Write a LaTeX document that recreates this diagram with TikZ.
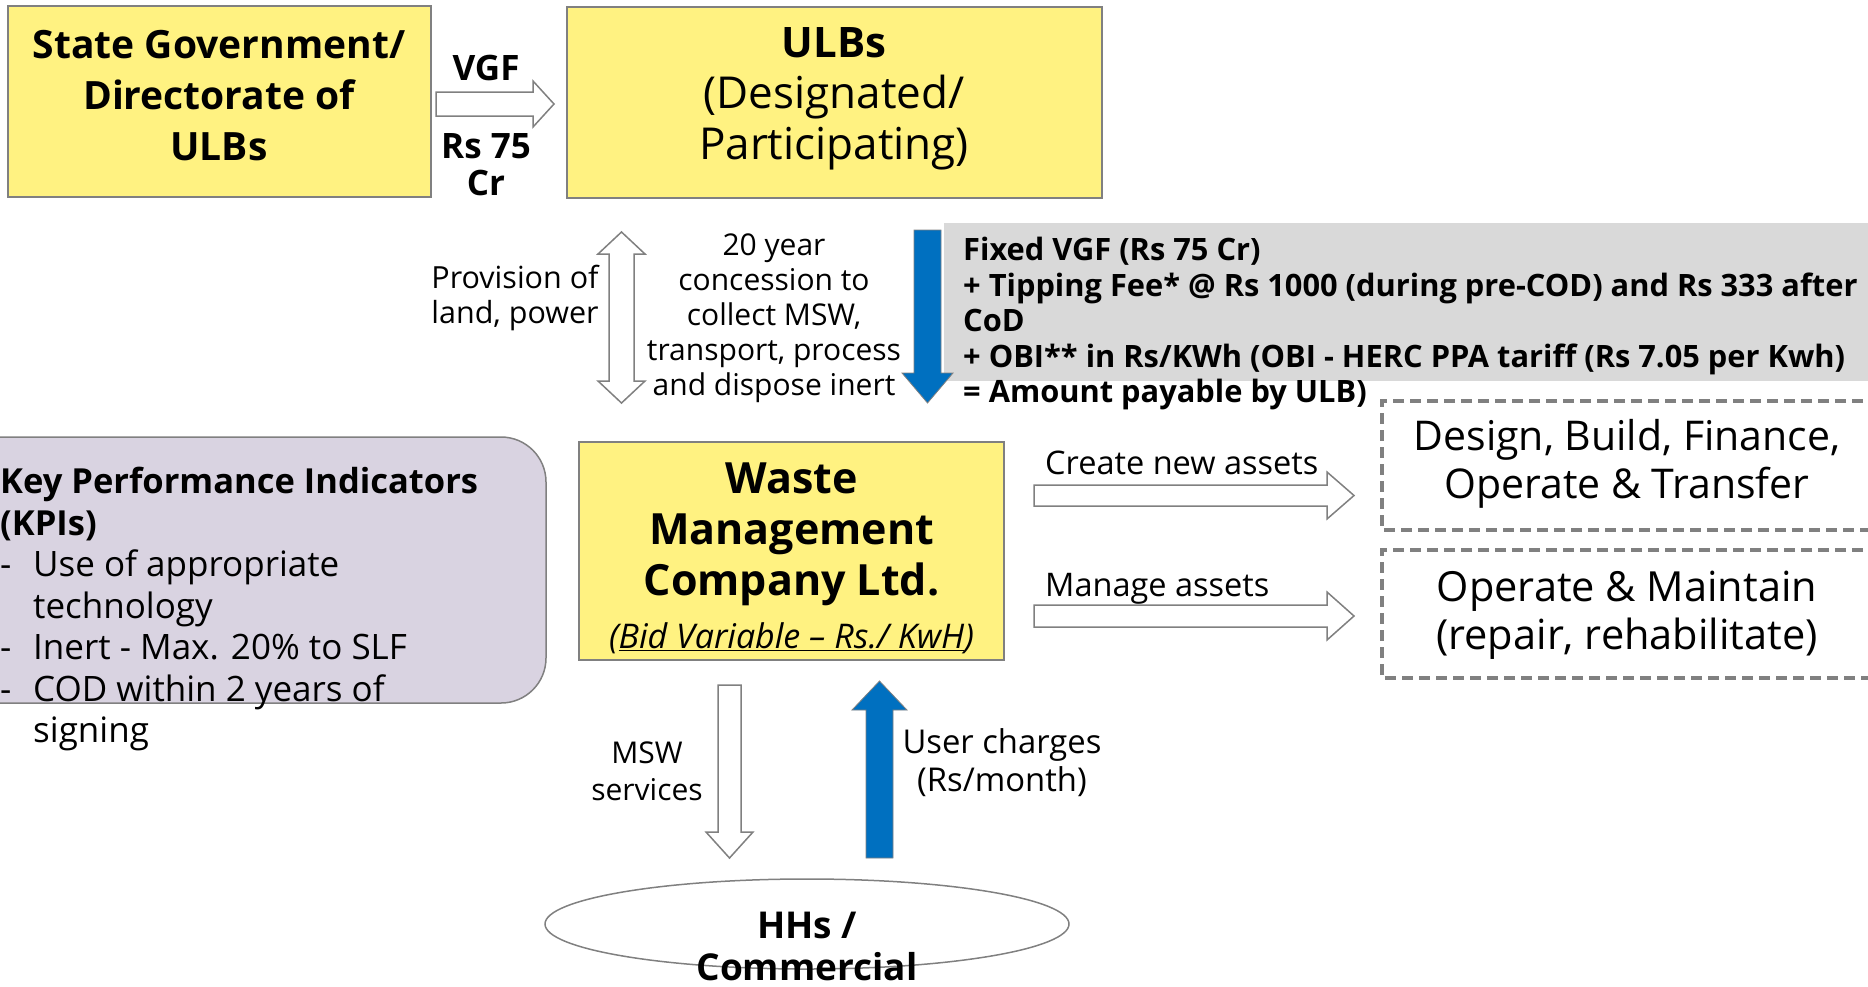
\documentclass[tikz,border=0pt]{standalone}
\usepackage{fontspec}
\setmainfont{Open Sans}
\usetikzlibrary{shapes.geometric}

\definecolor{boxyellow}{HTML}{FFF281}
\definecolor{boxedge}{HTML}{808080}
\definecolor{kpifill}{HTML}{D9D3E1}
\definecolor{notegray}{HTML}{D9D9D9}
\definecolor{flowblue}{HTML}{0070C0}

\newcommand{\fsz}[2]{\fontsize{#1}{#2}\selectfont}

\begin{document}
\begin{tikzpicture}[x=1pt,y=-1pt,
  party/.style={draw=boxedge, line width=1.5pt, fill=boxyellow, inner sep=0pt},
  hollow/.style={draw=boxedge, line width=1.5pt, fill=white, line join=miter},
  solidblue/.style={draw=boxedge, line width=0.8pt, fill=flowblue, line join=miter},
  txt/.style={align=center, inner sep=0pt},
  option/.style={draw=boxedge, line width=4pt, dash pattern=on 11pt off 6pt, inner sep=0pt},
]
\useasboundingbox (0,0) rectangle (1868,986);

% ---- top row: state government and ULBs
\node[party, minimum width=423, minimum height=191] (state) at (219.5,101.5) {};
\node[txt, font=\fsz{39}{51}\bfseries] (statetxt) at (219,96)
  {State Government/\\Directorate of\\ULBs};

\node[party, minimum width=535, minimum height=191] (ulb) at (834.5,102.5) {};
\node[txt, font=\fsz{44}{51}] (ulbtxt) at (834,99)
  {\fontsize{42}{51}\selectfont\textbf{ULBs}\\(Designated/\\Participating)};

% VGF transfer arrow
\draw[hollow] (436,92) -- (533,92) -- (533,81) -- (554,104) -- (533,127) -- (533,116) -- (436,116) -- cycle;
\node[txt, font=\fsz{35}{37}\bfseries] (vgf) at (486,68) {VGF};
\node[txt, font=\fsz{35}{37}\bfseries] (vgfamt) at (486,165) {Rs 75\\Cr};

% ---- ULB <-> company
\draw[hollow] (621.5,232) -- (645,254) -- (634,254) -- (634,381) -- (645,381) -- (621.5,403)
  -- (598,381) -- (609,381) -- (609,254) -- (598,254) -- cycle;
\node[txt, font=\fsz{30.5}{35}] (provision) at (515,298) {Provision of\\land, power};
\node[txt, font=\fsz{30}{35}] (concession) at (774,318)
  {20 year\\concession to\\collect MSW,\\transport, process\\and dispose inert};

% payment note
\node[fill=notegray, inner sep=0pt, anchor=north west, minimum width=930, minimum height=158] (note) at (944,223) {};
\draw[solidblue] (914,230) -- (941,230) -- (941,373) -- (953,373) -- (927.5,403) -- (902,373) -- (914,373) -- cycle;
\node[align=left, inner sep=0pt, anchor=north west, font=\fsz{30.8}{35.5}\bfseries] (notetxt) at (963,237)
  {Fixed VGF (Rs 75 Cr)\\
   + Tipping Fee* @ Rs 1000 (during pre-COD) and Rs 333 after\\
   CoD\\
   + OBI** in Rs/KWh (OBI - HERC PPA tariff (Rs 7.05 per Kwh)\\
   = Amount payable by ULB)};

% ---- KPIs
\draw[draw=boxedge, line width=1.5pt, fill=kpifill, rounded corners=45pt] (-60,437) rectangle (546,703);
\node[align=left, inner sep=0pt, anchor=north west, font=\fsz{35}{41.5}] (kpitxt) at (0,467)
  {\textbf{\fontsize{34.5}{41.5}\selectfont Key Performance Indicators}\\
   \textbf{\fontsize{34.5}{41.5}\selectfont (KPIs)}\\
   \makebox[33pt][l]{-}Use of appropriate\\
   \hspace*{33pt}technology\\
   \makebox[33pt][l]{-}Inert - Max. 20\% to SLF\\
   \makebox[33pt][l]{-}COD within 2 years of\\
   \hspace*{33pt}signing};

% ---- company
\node[party, minimum width=425, minimum height=218] (waste) at (791.5,551) {};
\node[txt, font=\fsz{43}{51}\bfseries] (wastetxt) at (791.5,534)
  {Waste\\Management\\Company Ltd.};
\node[txt, font=\fsz{34}{34}\itshape] (bid) at (791.5,638)
  {(\underline{Bid Variable – Rs./ KwH})};

% ---- asset roles
\draw[hollow] (1034,485) -- (1327,485) -- (1327,472) -- (1354,495.5) -- (1327,519) -- (1327,506) -- (1034,506) -- cycle;
\node[anchor=west, inner sep=0pt, font=\fsz{32.5}{35}] (create) at (1045,463) {Create new assets};
\draw[hollow] (1034,605) -- (1327,605) -- (1327,592) -- (1354,616) -- (1327,640) -- (1327,627) -- (1034,627) -- cycle;
\node[anchor=west, inner sep=0pt, font=\fsz{32.5}{35}] (manage) at (1045,589) {Manage assets};

\draw[option] (1880,401) -- (1382,401) -- (1382,530) -- (1880,530);
\node[txt, font=\fsz{41}{48}] (dbfot) at (1627,464) {Design, Build, Finance,\\Operate \& Transfer};
\draw[option] (1880,550) -- (1382,550) -- (1382,678) -- (1880,678);
\node[txt, font=\fsz{41.5}{48}] (om) at (1627,615) {Operate \& Maintain\\(repair, rehabilitate)};

% ---- company <-> households
\draw[hollow] (718,685) -- (741,685) -- (741,832) -- (753,832) -- (729.5,858) -- (706,832) -- (718,832) -- cycle;
\node[txt, font=\fsz{30}{37}] (msw) at (647,771) {MSW\\services};
\draw[solidblue] (866,858) -- (893,858) -- (893,710) -- (907,710) -- (879.5,681) -- (852,710) -- (866,710) -- cycle;
\node[txt, font=\fsz{32.8}{38}] (charges) at (1002,763) {User charges\\(Rs/month)};

\node[draw=boxedge, line width=1.5pt, ellipse, minimum width=524, minimum height=90, inner sep=0pt] (hh) at (807,924) {};
\node[txt, font=\fsz{37}{42}\bfseries] (hhtxt) at (807,946) {HHs /\\Commercial};
\end{tikzpicture}
\end{document}
